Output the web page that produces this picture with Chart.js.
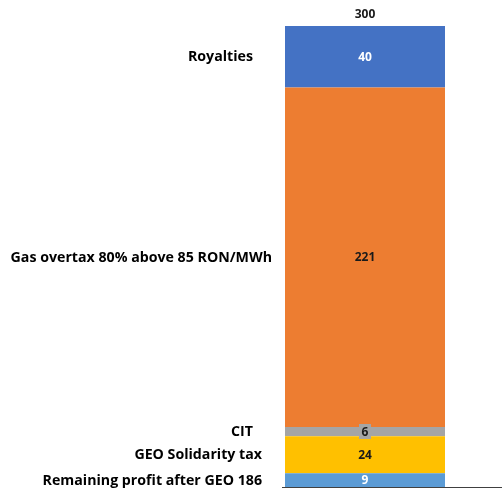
<!DOCTYPE html>
<html>
<head>
<meta charset="utf-8">
<script src="https://cdn.jsdelivr.net/npm/chart.js@4/dist/chart.umd.min.js"></script>
<style>
  html, body { margin: 0; padding: 0; background: #ffffff; }
  #wrap { width: 502px; height: 489px; }
</style>
</head>
<body>
<div id="wrap"><canvas id="c" width="502" height="489"></canvas></div>
<script>
// Stacked components, bottom to top
const seriesNames = [
  'Remaining profit after GEO 186',
  'GEO Solidarity tax',
  'CIT',
  'Gas overtax 80% above 85 RON/MWh',
  'Royalties'
];
const seriesValues = [9, 24, 6, 221, 40];
const categories = [''];

// Presentation for each component
const seriesColors = ['#5B9BD5', '#FFC000', '#A5A5A5', '#ED7D31', '#4472C4'];
const valueColors  = ['#ffffff', '#1a1a1a', '#1a1a1a', '#1a1a1a', '#ffffff'];
const valueBoxed   = [false, false, true, false, false];
const nameRightX   = [262, 262, 253, 272, 253];

const FONT = '"Open Sans", "Liberation Sans", sans-serif';

const stackLabels = {
  id: 'stackLabels',
  afterDatasetsDraw(chart) {
    const ctx = chart.ctx;
    ctx.save();
    ctx.textBaseline = 'middle';
    let topY = Infinity, cx = 0;
    chart.data.datasets.forEach((ds, i) => {
      const el = chart.getDatasetMeta(i).data[0];
      const yMid = (el.y + el.base) / 2;
      cx = el.x;
      topY = Math.min(topY, el.y);
      const txt = String(ds.data[0]);
      ctx.font = 'bold 12px ' + FONT;
      if (valueBoxed[i]) {
        const w = ctx.measureText(txt).width + 5;
        ctx.fillStyle = seriesColors[i];
        ctx.fillRect(Math.round(el.x - w / 2), Math.round(yMid - 7.5), Math.round(w), 15);
      }
      ctx.fillStyle = valueColors[i];
      ctx.textAlign = 'center';
      ctx.fillText(txt, el.x, yMid + 0.5);
      // component name to the left of the bar
      ctx.font = 'bold 14.2px ' + FONT;
      ctx.fillStyle = '#000000';
      ctx.textAlign = 'right';
      ctx.fillText(ds.label, nameRightX[i], yMid + 0.5);
    });
    // total above the stack
    const total = seriesValues.reduce((a, b) => a + b, 0);
    ctx.font = 'bold 12px ' + FONT;
    ctx.fillStyle = '#1a1a1a';
    ctx.textAlign = 'center';
    ctx.fillText(String(total), cx, topY - 11);
    // baseline axis
    const a = chart.chartArea;
    ctx.strokeStyle = '#404040';
    ctx.lineWidth = 1;
    ctx.beginPath();
    ctx.moveTo(a.left, a.bottom + 0.5);
    ctx.lineTo(chart.width, a.bottom + 0.5);
    ctx.stroke();
    ctx.restore();
  }
};

new Chart(document.getElementById('c'), {
  type: 'bar',
  data: {
    labels: categories,
    datasets: seriesNames.map((name, i) => ({
      label: name,
      data: [seriesValues[i]],
      backgroundColor: seriesColors[i],
      borderWidth: 0,
      barPercentage: 160 / 166,
      categoryPercentage: 1
    }))
  },
  options: {
    responsive: false,
    animation: false,
    layout: { padding: { left: 282, right: 54, top: 26, bottom: 2 } },
    plugins: { legend: { display: false }, tooltip: { enabled: false } },
    scales: {
      x: { stacked: true, display: false },
      y: { stacked: true, display: false, min: 0, max: 300 }
    }
  },
  plugins: [stackLabels]
});
</script>
</body>
</html>
